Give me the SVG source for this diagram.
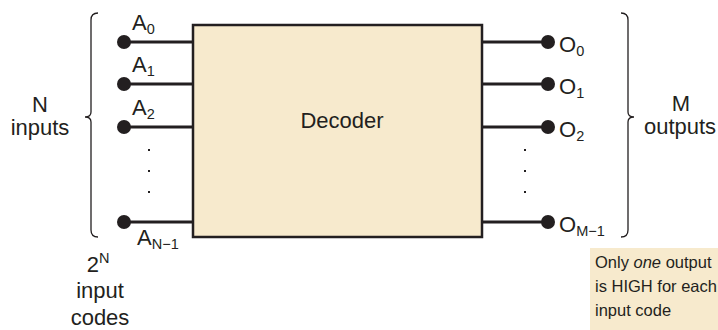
<svg xmlns="http://www.w3.org/2000/svg" width="718" height="330" viewBox="0 0 718 330">
<style>
text{font-family:"Liberation Sans",Arial,sans-serif;fill:#231f20}
.t{font-size:22px}
.s{font-size:14.5px}
.n{font-size:16.5px}
.w{stroke:#231f20;stroke-width:3;fill:none}
.d{fill:#231f20}
.b{stroke:#231f20;stroke-width:1.3;fill:none}
</style>
<rect width="718" height="330" fill="#fff"/>
<g id="connectors">
<line class="w" x1="124" y1="42" x2="193" y2="42"/>
<line class="w" x1="124" y1="84" x2="193" y2="84"/>
<line class="w" x1="124" y1="127" x2="193" y2="127"/>
<line class="w" x1="124" y1="222" x2="193" y2="222"/>
<line class="w" x1="482" y1="42" x2="548" y2="42"/>
<line class="w" x1="482" y1="84" x2="548" y2="84"/>
<line class="w" x1="482" y1="127" x2="548" y2="127"/>
<line class="w" x1="482" y1="222" x2="548" y2="222"/>
</g>
<g id="decoder">
<rect x="193" y="25" width="289" height="212" fill="#f7eacd" stroke="#231f20" stroke-width="2.5"/>
<text class="t" x="342" y="128" text-anchor="middle">Decoder</text>
</g>
<g id="inputs">
<circle class="d" cx="124" cy="42" r="7"/>
<circle class="d" cx="124" cy="84" r="7"/>
<circle class="d" cx="124" cy="127" r="7"/>
<circle class="d" cx="124" cy="222" r="7"/>
<text class="t" x="132" y="30">A<tspan class="s" dy="4">0</tspan></text>
<text class="t" x="132" y="72">A<tspan class="s" dy="4">1</tspan></text>
<text class="t" x="132" y="115">A<tspan class="s" dy="4">2</tspan></text>
<text class="t" x="137" y="245">A<tspan class="s" dy="4">N−1</tspan></text>
<rect class="d" x="148" y="149" width="2" height="2"/>
<rect class="d" x="148" y="170" width="2" height="2"/>
<rect class="d" x="148" y="191" width="2" height="2"/>
<path class="b" d="M98,13 Q91,13 91,20 L91,112 Q91,117 85,117 Q91,117 91,122 L91,230 Q91,237 98,237"/>
<text class="t" x="40" y="112" text-anchor="middle">N</text>
<text class="t" x="40" y="135" text-anchor="middle">inputs</text>
</g>
<g id="outputs">
<circle class="d" cx="548" cy="42" r="7"/>
<circle class="d" cx="548" cy="84" r="7"/>
<circle class="d" cx="548" cy="127" r="7"/>
<circle class="d" cx="548" cy="222" r="7"/>
<text class="t" x="559" y="52">O<tspan class="s" dy="4">0</tspan></text>
<text class="t" x="559" y="94">O<tspan class="s" dy="4">1</tspan></text>
<text class="t" x="559" y="137">O<tspan class="s" dy="4">2</tspan></text>
<text class="t" x="559" y="232">O<tspan class="s" dy="4">M−1</tspan></text>
<rect class="d" x="524" y="149" width="2" height="2"/>
<rect class="d" x="524" y="170" width="2" height="2"/>
<rect class="d" x="524" y="191" width="2" height="2"/>
<path class="b" d="M621,13 Q628,13 628,20 L628,112 Q628,117 634,117 Q628,117 628,122 L628,230 Q628,237 621,237"/>
<text class="t" x="681" y="111" text-anchor="middle">M</text>
<text class="t" x="680" y="134" text-anchor="middle">outputs</text>
</g>
<g id="codes">
<text class="t" x="98" y="272" text-anchor="middle">2<tspan class="s" dy="-9">N</tspan></text>
<text class="t" x="100" y="298" text-anchor="middle">input</text>
<text class="t" x="100" y="325" text-anchor="middle">codes</text>
</g>
<g id="note">
<rect x="590" y="248" width="128" height="82" fill="#f7eacd"/>
<text class="n" x="595" y="268">Only <tspan font-style="italic">one</tspan> output</text>
<text class="n" x="595" y="292">is HIGH for each</text>
<text class="n" x="595" y="316">input code</text>
</g>
</svg>
